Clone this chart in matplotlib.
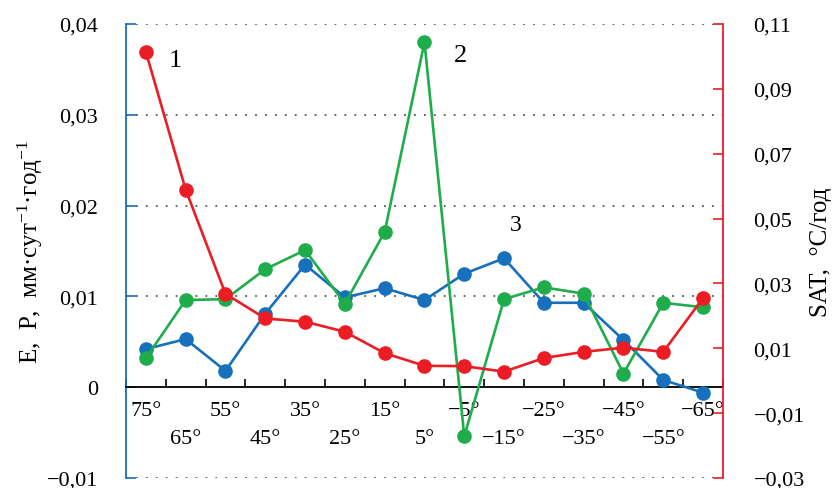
import numpy as np
import matplotlib
matplotlib.use("Agg")
import matplotlib.pyplot as plt

plt.rcParams['font.family'] = ['Liberation Serif', 'DejaVu Serif']
plt.rcParams['mathtext.fontset'] = 'custom'
plt.rcParams['mathtext.rm'] = 'Liberation Serif'
plt.rcParams['mathtext.it'] = 'Liberation Serif:italic'
plt.rcParams['axes.unicode_minus'] = True

# широты, град.
lat = [75, 65, 55, 45, 35, 25, 15, 5, -5, -15, -25, -35, -45, -55, -65]

# 1 - SAT, °C/год (правая ось)
sat = [0.1014, 0.0589, 0.0268, 0.0192, 0.0182, 0.0151, 0.0085, 0.0046,
       0.0045, 0.0028, 0.0070, 0.0089, 0.0102, 0.0089, 0.0255]
# 2 - мм/сут за год (левая ось)
e2 = [0.0032, 0.0096, 0.0097, 0.0130, 0.0151, 0.0092, 0.0171, 0.0380,
      -0.0054, 0.0097, 0.0110, 0.0103, 0.0015, 0.0093, 0.0088]
# 3
p3 = [0.0042, 0.0053, 0.0018, 0.0081, 0.0135, 0.0099, 0.0109, 0.0096,
      0.0125, 0.0142, 0.0093, 0.0093, 0.0052, 0.0008, -0.0006]

left_ticks = [-0.01, 0, 0.01, 0.02, 0.03, 0.04]
right_ticks = [-0.03, -0.01, 0.01, 0.03, 0.05, 0.07, 0.09, 0.11]

red = '#ec1c24'
green = '#1fad4b'
blue = '#1670bb'

def fmt(v):
    if v == 0:
        return '0'
    s = f'{abs(v):.2f}'.replace('.', ',')
    return ('\u2212' + s) if v < 0 else s

fig = plt.figure(figsize=(8.36, 4.89), dpi=100)
ax = fig.add_axes([0.1507, 0.0204, 0.7141, 0.9285])
ax2 = ax.twinx()

x = np.arange(len(lat))

ax.plot(x, p3, '-o', color=blue, lw=1.9, ms=9.5, zorder=3)
ax.plot(x, e2, '-o', color=green, lw=1.9, ms=9.5, zorder=4)
ax2.plot(x, sat, '-o', color=red, lw=1.9, ms=9.5, zorder=5)

ax.set_xlim(-0.5, len(lat) - 0.5)
ax.set_ylim(-0.01, 0.04)
ax2.set_ylim(-0.03, 0.11)

# пунктирная сетка
for v in [-0.01, 0.01, 0.02, 0.03, 0.04]:
    ax.axhline(v, color='#555555', lw=1.3, ls=(0, (1, 4.5)), zorder=1)

# ось абсцисс по нулю левой шкалы
ax.spines['bottom'].set_position(('data', 0))
ax.spines['bottom'].set_color('black')
ax.spines['bottom'].set_linewidth(1.3)
ax.spines['top'].set_visible(False)
ax.spines['right'].set_visible(False)
ax.spines['left'].set_color(blue)
ax.spines['left'].set_linewidth(1.3)
for s in ['top', 'bottom', 'left']:
    ax2.spines[s].set_visible(False)
ax2.spines['right'].set_color(red)
ax2.spines['right'].set_linewidth(1.3)

# подписи широт в два ряда
ax.set_xticks(x)
ax.set_xticklabels([])
ax.set_xticks(np.arange(-0.5, len(lat), 1.0), minor=True)
ax.tick_params(axis='x', which='major', length=0)
ax.tick_params(axis='x', which='minor', direction='in', length=6,
               width=1.2, color='black')
for i, v in enumerate(lat):
    s = f'{abs(v)}°'
    if v < 0:
        s = '\u2212' + s
    dy = -17 if i % 2 == 0 else -37
    ax.annotate(s, xy=(i, 0), xytext=(0, dy), textcoords='offset points',
                ha='center', va='center', fontsize=16)

ax.set_yticks(left_ticks)
ax.set_yticklabels([fmt(v) for v in left_ticks], fontsize=16,
                   va='center_baseline')
ax.tick_params(axis='y', direction='in', length=7, width=1.2, color=blue, pad=20)

ax2.set_yticks(right_ticks)
ax2.set_yticklabels([fmt(v) for v in right_ticks], fontsize=16,
                    va='center_baseline')
ax2.tick_params(axis='y', direction='in', length=7, width=1.2, color=red, pad=22)

ax.set_ylabel('E,  P,  мм·сут$^{-1}$·год$^{-1}$', fontsize=18, labelpad=1)
ax2.set_ylabel('SAT,  °C/год', fontsize=18, labelpad=4)

ax.text(0.75, 0.036, '1', fontsize=19, ha='center', va='center', zorder=6)
ax.text(7.9, 0.0366, '2', fontsize=19, ha='center', va='center', zorder=6)
ax.text(9.3, 0.0179, '3', fontsize=17, ha='center', va='center', zorder=6)

fig.savefig('out.png', dpi=100)
